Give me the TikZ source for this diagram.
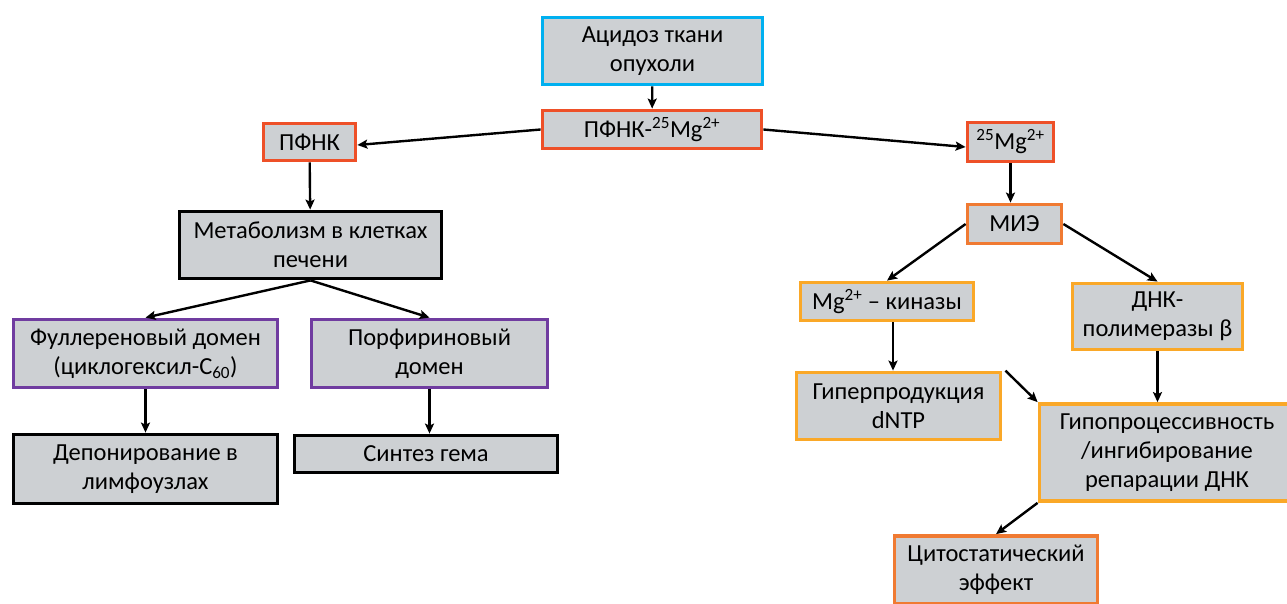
\documentclass[tikz,border=0pt]{standalone}
\usepackage{fontspec}
\setmainfont{Carlito}
\usetikzlibrary{arrows.meta}
\definecolor{boxfill}{RGB}{205,208,211}
\definecolor{cblue}{RGB}{0,176,240}
\definecolor{cred}{RGB}{238,80,40}
\definecolor{corange}{RGB}{240,122,50}
\definecolor{cyellow}{RGB}{250,168,40}
\definecolor{cpurple}{RGB}{112,60,160}
\begin{document}
\begin{tikzpicture}[x=1pt,y=-1pt,
  box/.style={draw=#1, fill=boxfill, line width=3.8pt, align=center,
    font=\fontsize{24.5}{29}\selectfont, inner sep=0pt},
  conn/.style={-{Stealth[length=10pt,width=9pt,inset=2pt]}, line width=2.4pt}]
\useasboundingbox (0,0) rectangle (1287,603);
\begin{scope}
\clip (0,0) rectangle (1287,603);
\node[box=cblue, minimum width=220, minimum height=67] (acid) at (652.5,51) {Ацидоз ткани\\опухоли};
\node[box=cred, minimum width=219, minimum height=38] (pfnkmg) at (652,129.5) {ПФНК-\textsuperscript{25}Mg\textsuperscript{2+}};
\node[box=cred, minimum width=92, minimum height=37] (pfnk) at (309.5,142) {ПФНК};
\node[box=cred, minimum width=86, minimum height=39] (mg) at (1010.5,142) {\textsuperscript{25}Mg\textsuperscript{2+}};
\node[box=corange, minimum width=94, minimum height=39] (mie) at (1014.5,224) {МИЭ};
\node[box=black, minimum width=262, minimum height=67] (metab) at (310.5,245) {Метаболизм в клетках\\печени};
\node[box=cpurple, minimum width=264, minimum height=68] (full) at (145.5,353.5) {Фуллереновый домен\\(циклогексил-C\textsubscript{60})};
\node[box=cpurple, minimum width=236, minimum height=68] (porf) at (429.5,353.5) {Порфириновый\\домен};
\node[box=black, minimum width=264, minimum height=69] (depon) at (145.5,469) {Депонирование в\\лимфоузлах};
\node[box=black, minimum width=263, minimum height=37] (synth) at (426,454) {Синтез гема};
\node[box=cyellow, minimum width=173, minimum height=38] (kin) at (887,301.5) {Mg\textsuperscript{2+} – киназы};
\node[box=cyellow, minimum width=170, minimum height=66] (dnk) at (1157.5,316.5) {ДНК-\\полимеразы β};
\node[box=cyellow, minimum width=204, minimum height=67] (hyper) at (898.5,406) {Гиперпродукция\\dNTP};
\node[box=cyellow, minimum width=255, minimum height=97] (hypo) at (1167,452.5) {Гипопроцессивность\\/ингибирование\\репарации ДНК};
\node[box=corange, minimum width=203, minimum height=68] (cyto) at (996,570) {Цитостатический\\эффект};

\draw[conn] (acid) -- (pfnkmg);
\draw[conn] (pfnkmg.west) -- ([yshift=-3pt]pfnk.east);
\draw[conn] (pfnkmg.east) -- ([yshift=-5pt]mg.west);
\draw[conn] (pfnk) -- (metab);
\draw[conn] (mg.south) -- (mg.south |- mie.north);
\draw[conn] (mie.west) -- (kin.north);
\draw[conn] (mie.east) -- (dnk.north);
\draw[conn] (metab.south) -- (full.north);
\draw[conn] (metab.south) -- (porf.north);
\draw[conn] (full) -- (depon);
\draw[conn] (porf.south) -- (porf.south |- synth.north);
\draw[conn] (kin.south -| 893,0) -- (hyper.north -| 893,0);
\draw[conn] ([xshift=3pt]hyper.north east) -- (hypo.north west);
\draw[conn] (dnk.south) -- (dnk.south |- hypo.north);
\draw[conn] (hypo.south west) -- (cyto.north);
\end{scope}
\end{tikzpicture}
\end{document}
